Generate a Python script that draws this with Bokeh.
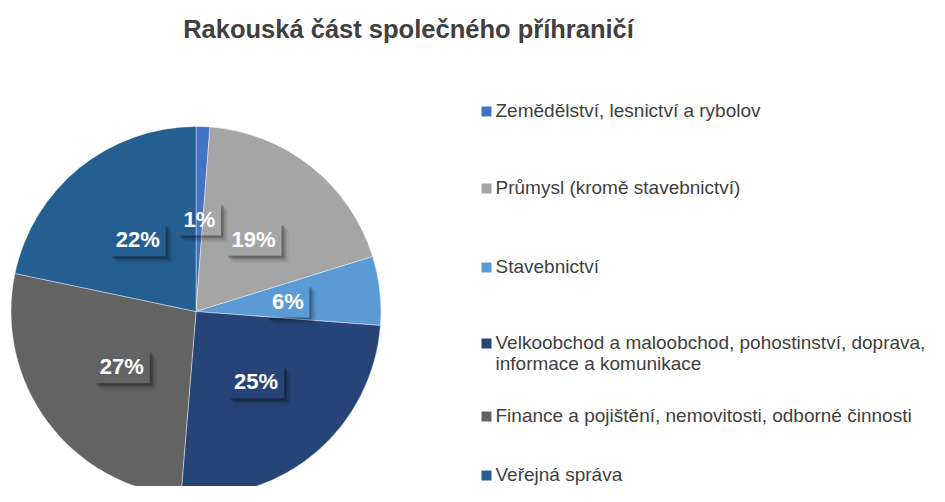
import math
from bokeh.plotting import figure
from bokeh.models import Range1d, ColumnDataSource
from bokeh.core.properties import value
from bokeh.embed import file_html
from bokeh.resources import INLINE

# ---- data ----
title = "Rakouská část společného příhraničí"
categories = [
    "Zemědělství, lesnictví a rybolov",
    "Průmysl (kromě stavebnictví)",
    "Stavebnictví",
    "Velkoobchod a maloobchod, pohostinství, doprava,\ninformace a komunikace",
    "Finance a pojištění, nemovitosti, odborné činnosti",
    "Veřejná správa",
]
shares = [1.2, 19.0, 6.0, 25.1, 27.0, 21.7]
labels = ["1%", "19%", "6%", "25%", "27%", "22%"]
colors = ["#4472C4", "#A5A5A5", "#5B9BD5", "#264478", "#636363", "#255E91"]

# ---- layout (picture pixel coordinates -> data coordinates) ----
W, H = 929, 486
def fx(px):
    return px
def fy(py):
    return H - py

CX, CY, R = fx(195.5), fy(311), 185
FONT = "Liberation Sans"
TXT = "#404040"

p = figure(width=W, height=H, x_range=Range1d(0, W), y_range=Range1d(0, H),
           output_backend="svg", toolbar_location=None, min_border=0,
           x_axis_type=None, y_axis_type=None)
p.xgrid.visible = False
p.ygrid.visible = False
p.outline_line_color = None
p.background_fill_color = "white"
p.border_fill_color = "white"

total = sum(shares)
starts, ends, mids = [], [], []
cum = 0.0
for s in shares:
    a0 = cum / total
    cum += s
    a1 = cum / total
    starts.append(math.pi / 2 - a0 * 2 * math.pi)
    ends.append(math.pi / 2 - a1 * 2 * math.pi)
    mids.append((a0 + a1) / 2 * 2 * math.pi)

src = ColumnDataSource(dict(start=starts, end=ends, color=colors))
p.wedge(x=CX, y=CY, radius=R, radius_units="screen", start_angle="start",
        end_angle="end", direction="clock", fill_color="color",
        line_color="white", line_width=0.6, line_alpha=0.7, source=src)

# data labels: transparent boxes with soft outer shadow (bottom-right)
lx = [CX + 0.5 * R * math.sin(m) for m in mids]
ly = [CY + 0.5 * R * math.cos(m) for m in mids]
bw = [13 * len(t) + 17 for t in labels]
bh = 33
for d, alpha in [(7, 0.06), (5, 0.10), (3, 0.16), (2, 0.12)]:
    l1, r1, t1, b1 = [], [], [], []
    for x, y, w in zip(lx, ly, bw):
        x0, x1 = x - w / 2, x + w / 2
        y0, y1 = y - bh / 2, y + bh / 2
        # right strip
        l1.append(x1); r1.append(x1 + d); t1.append(y1 - d); b1.append(y0 - d)
        # bottom strip
        l1.append(x0 + d); r1.append(x1); t1.append(y0); b1.append(y0 - d)
    p.quad(left=l1, right=r1, top=t1, bottom=b1, fill_color="black",
           fill_alpha=alpha, line_color=None)
p.text(x=lx, y=ly, text=labels, text_color="white",
       text_font=value(FONT), text_font_style="bold", text_font_size="22px",
       text_align="center", text_baseline="middle")

# title
p.text(x=[fx(408)], y=[fy(28)], text=[title], text_color=TXT,
       text_font=value(FONT), text_font_style="bold", text_font_size="25.5px",
       text_align="center", text_baseline="middle")

# legend
leg_y = [110, 187, 266, 342, 415, 474]
line_h = 21
for cat, col, yy in zip(categories, colors, leg_y):
    p.scatter(x=[fx(486)], y=[fy(yy + 1)], marker="square", size=10,
              fill_color=col, line_color=None)
    for i, line in enumerate(cat.split("\n")):
        p.text(x=[fx(495)], y=[fy(yy + i * line_h)], text=[line],
               text_color=TXT, text_font=value(FONT), text_font_size="19px",
               text_align="left", text_baseline="middle")

open("out.html", "w").write(file_html(p, INLINE))
